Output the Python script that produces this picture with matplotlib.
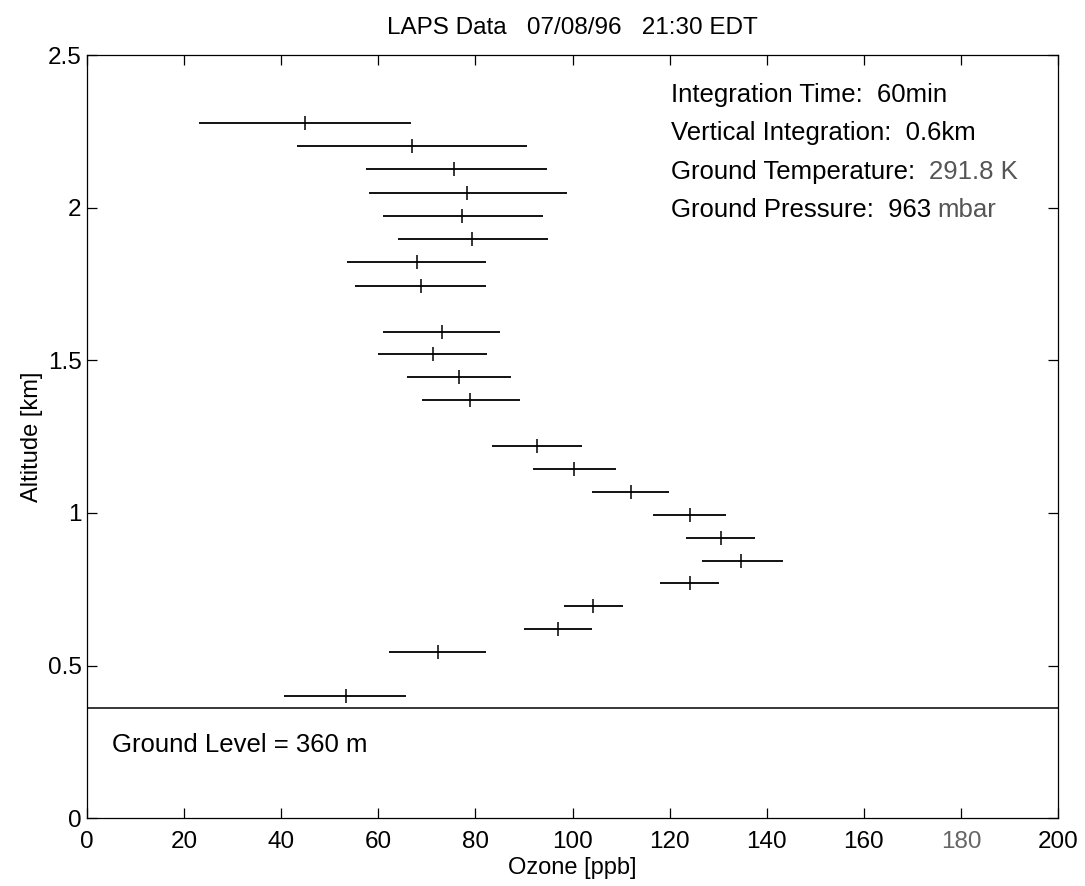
import matplotlib
matplotlib.use("Agg")
import matplotlib.pyplot as plt
import numpy as np

# altitude [km] of each retrieval layer
altitude = [2.276, 2.201, 2.126, 2.049, 1.972, 1.896, 1.821, 1.745,
            1.594, 1.521, 1.446, 1.371, 1.220, 1.143, 1.069, 0.994,
            0.918, 0.844, 0.770, 0.694, 0.621, 0.546, 0.399]
# ozone [ppb]: value and lower/upper ends of the error bars
ozone = [44.9, 66.9, 75.6, 78.3, 77.3, 79.4, 67.9, 68.7,
         73.1, 71.3, 76.6, 78.9, 92.7, 100.4, 112.0, 124.2,
         130.5, 134.8, 124.1, 104.3, 97.1, 72.2, 53.3]
ozone_low = [23.1, 43.3, 57.5, 58.0, 60.9, 64.0, 53.5, 55.2,
             61.0, 59.9, 66.0, 68.9, 83.5, 91.8, 104.0, 116.6,
             123.4, 126.7, 118.0, 98.3, 90.1, 62.1, 40.6]
ozone_high = [66.7, 90.7, 94.7, 98.8, 93.9, 94.9, 82.1, 82.1,
              85.1, 82.4, 87.4, 89.2, 101.9, 109.0, 119.9, 131.6,
              137.6, 143.3, 130.2, 110.5, 104.1, 82.1, 65.8]

ground_level = 0.36
x_ticks = [0, 20, 40, 60, 80, 100, 120, 140, 160, 180, 200]
y_ticks = [0, 0.5, 1, 1.5, 2, 2.5]
y_tick_labels = ["0", "0.5", "1", "1.5", "2", "2.5"]

plt.rcParams['font.family'] = ['Liberation Sans', 'DejaVu Sans']
plt.rcParams['font.size'] = 18.5

fig = plt.figure(figsize=(10.85, 8.86), dpi=100)
ax = fig.add_axes([0.0802, 0.0764, 0.8949, 0.8615])

oz = np.array(ozone)
xerr = [oz - np.array(ozone_low), np.array(ozone_high) - oz]
ax.errorbar(oz, altitude, xerr=xerr, fmt='|', color='black',
            markersize=10, markeredgewidth=1.1, elinewidth=1.3,
            capsize=0)

ax.axhline(ground_level, color='black', linewidth=1.1)

ax.set_xlim(0, 200)
ax.set_ylim(0, 2.5)
ax.set_xticks(x_ticks)
ax.set_yticks(y_ticks)
ax.set_yticklabels(y_tick_labels)
ax.tick_params(direction='in', length=7, width=0.9, top=True, right=True,
               labelsize=17.5)
ax.tick_params(axis='x', pad=9)
ax.tick_params(axis='y', pad=4)
for s in ax.spines.values():
    s.set_linewidth(0.9)
ax.get_xticklabels()[9].set_color('#666666')

ax.set_title("LAPS Data   07/08/96   21:30 EDT", fontsize=17.5, pad=15)
ax.set_xlabel("Ozone [ppb]", fontsize=17, labelpad=3)
ax.set_ylabel("Altitude [km]", fontsize=17, labelpad=3)

tx = 120.2
ax.text(tx, 2.346, "Integration Time:  60min", va='baseline')
ax.text(tx, 2.221, "Vertical Integration:  0.6km", va='baseline')
t = ax.text(tx, 2.095, "Ground Temperature:  ", va='baseline')
ax.annotate("291.8 K", xycoords=t, xy=(1, 0), va='bottom', color='#555555')
t = ax.text(tx, 1.970, "Ground Pressure:  963 ", va='baseline')
ax.annotate("mbar", xycoords=t, xy=(1, 0), va='bottom', color='#555555')
ax.text(5.1, 0.218, "Ground Level = 360 m", va='baseline')

fig.savefig("out.png", dpi=100)
